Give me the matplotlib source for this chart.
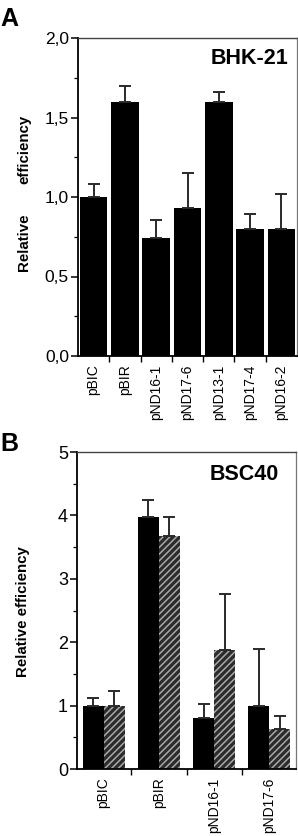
import matplotlib
matplotlib.use("Agg")
import matplotlib.pyplot as plt
import numpy as np
from matplotlib.ticker import FixedLocator, FuncFormatter

plt.rcParams['font.family'] = ['Liberation Sans', 'DejaVu Sans']
plt.rcParams['hatch.linewidth'] = 1.1

# Panel A data (BHK-21)
cats_a = ["pBIC", "pBIR", "pND16-1", "pND17-6", "pND13-1", "pND17-4", "pND16-2"]
vals_a = [1.00, 1.60, 0.74, 0.93, 1.60, 0.80, 0.80]
tops_a = [1.08, 1.70, 0.855, 1.15, 1.66, 0.89, 1.02]

# Panel B data (BSC40)
cats_b = ["pBIC", "pBIR", "pND16-1", "pND17-6"]
vals_b_solid = [1.00, 3.98, 0.80, 1.00]
tops_b_solid = [1.12, 4.24, 1.02, 1.90]
vals_b_hatch = [1.00, 3.67, 1.88, 0.63]
tops_b_hatch = [1.23, 3.98, 2.76, 0.83]

W, H = 298, 836
fig = plt.figure(figsize=(W / 100, H / 100), dpi=100)

def ax_rect(l, t, r, b):
    return [l / W, 1 - b / H, (r - l) / W, (b - t) / H]

ecol = '#2a2a2a'

def style_axes(ax):
    ax.spines['left'].set_color('black')
    ax.spines['bottom'].set_color('black')
    ax.spines['left'].set_linewidth(1.3)
    ax.spines['bottom'].set_linewidth(1.3)
    ax.spines['top'].set_color('#444444')
    ax.spines['top'].set_linewidth(1.0)
    ax.spines['right'].set_color('#777777')
    ax.spines['right'].set_linewidth(0.9)
    ax.tick_params(axis='y', which='major', direction='out', length=5, width=1.1, pad=1.5)
    ax.tick_params(axis='y', which='minor', direction='out', length=3, width=0.9)
    ax.tick_params(axis='x', which='major', length=0, pad=6)
    ax.tick_params(axis='x', which='minor', direction='out', length=4, width=1.0)

# ---------- Panel A ----------
axA = fig.add_axes(ax_rect(78, 38, 297, 356))
xa = np.arange(len(cats_a))
errA = np.array(tops_a) - np.array(vals_a)
axA.bar(xa, vals_a, width=0.88, color='black', zorder=2)
axA.errorbar(xa, vals_a, yerr=[np.zeros_like(errA), errA], fmt='none',
             ecolor=ecol, elinewidth=1.4, capsize=4.5, capthick=1.4, zorder=3)
axA.set_xlim(-0.5, len(cats_a) - 0.5)
axA.set_ylim(0, 2.0)
axA.set_yticks([0, 0.5, 1.0, 1.5, 2.0])
axA.yaxis.set_minor_locator(FixedLocator([0.25, 0.75, 1.25, 1.75]))
axA.yaxis.set_major_formatter(FuncFormatter(lambda v, p: f"{v:.1f}".replace('.', ',')))
axA.set_xticks(xa)
axA.set_xticklabels(cats_a, rotation=90, fontsize=10)
axA.xaxis.set_minor_locator(FixedLocator(np.arange(0.5, len(cats_a) - 0.5, 1.0)))
style_axes(axA)
for lab in axA.get_yticklabels():
    lab.set_fontsize(12.5)
axA.text(0.96, 0.935, "BHK-21", transform=axA.transAxes, ha='right', va='center',
         fontsize=15.5, fontweight='bold')

fig.text(0 / W, 1 - 19 / H, "A", ha='left', va='center', fontsize=18, fontweight='bold')
fig.text(24 / W, 1 - 242 / H, "Relative", rotation=90, ha='center', va='center',
         fontsize=10.8, fontweight='bold')
fig.text(24 / W, 1 - 149 / H, "efficiency", rotation=90, ha='center', va='center',
         fontsize=10.8, fontweight='bold')

# ---------- Panel B ----------
axB = fig.add_axes(ax_rect(77, 452, 296, 769))
xb = np.arange(len(cats_b))
bw = 0.38
errBs = np.array(tops_b_solid) - np.array(vals_b_solid)
errBh = np.array(tops_b_hatch) - np.array(vals_b_hatch)
axB.bar(xb - bw / 2, vals_b_solid, width=bw, color='black', zorder=2)
axB.bar(xb + bw / 2, vals_b_hatch, width=bw, facecolor='#2b2b2b', edgecolor='#a8a8a8',
        hatch='/////', linewidth=0, zorder=2)
axB.errorbar(xb - bw / 2, vals_b_solid, yerr=[np.zeros_like(errBs), errBs], fmt='none',
             ecolor=ecol, elinewidth=1.4, capsize=4.5, capthick=1.4, zorder=3)
axB.errorbar(xb + bw / 2, vals_b_hatch, yerr=[np.zeros_like(errBh), errBh], fmt='none',
             ecolor=ecol, elinewidth=1.4, capsize=4.5, capthick=1.4, zorder=3)
axB.set_xlim(-0.48, len(cats_b) - 0.52)
axB.set_ylim(0, 5)
axB.set_yticks([0, 1, 2, 3, 4, 5])
axB.yaxis.set_minor_locator(FixedLocator([0.5, 1.5, 2.5, 3.5, 4.5]))
axB.set_xticks(xb)
axB.set_xticklabels(cats_b, rotation=90, fontsize=10)
axB.xaxis.set_minor_locator(FixedLocator(np.arange(0.5, len(cats_b) - 0.5, 1.0)))
style_axes(axB)
axB.tick_params(axis='x', which='major', pad=6)
for lab in axB.get_yticklabels():
    lab.set_fontsize(13)
axB.text(0.92, 0.93, "BSC40", transform=axB.transAxes, ha='right', va='center',
         fontsize=15.5, fontweight='bold')

fig.text(0 / W, 1 - 444 / H, "B", ha='left', va='center', fontsize=18, fontweight='bold')
fig.text(23 / W, 1 - 612 / H, "Relative efficiency", rotation=90, ha='center', va='center',
         fontsize=10.8, fontweight='bold')

fig.savefig("out.png", dpi=100)
